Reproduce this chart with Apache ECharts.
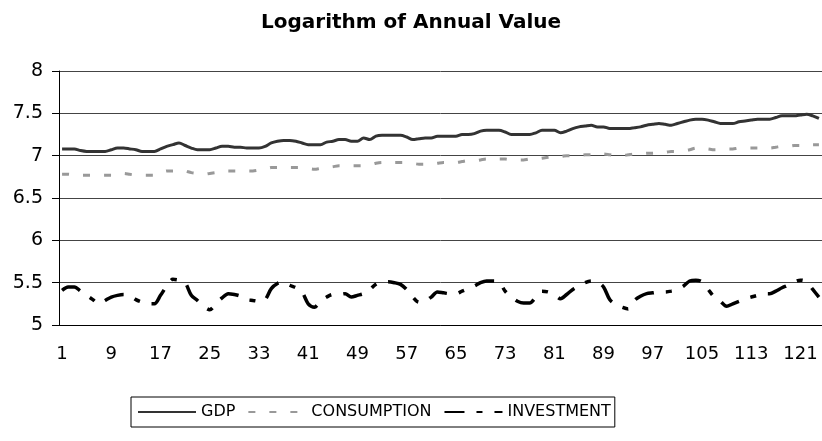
<!DOCTYPE html>
<html>
<head>
<meta charset="utf-8">
<script src="https://cdn.jsdelivr.net/npm/echarts@6/dist/echarts.min.js"></script>
<style>
  html, body { margin: 0; padding: 0; background: #fff; }
  #myChart { width: 822px; height: 441px; }
</style>
</head>
<body>
<div id="myChart"></div>
<script>
// x axis: observation number 1..124
var categories = Array.from({ length: 124 }, function (v, i) { return String(i + 1) })

var gdp = [
  7.08, 7.08, 7.08, 7.06, 7.05, 7.05, 7.05, 7.05, 7.07, 7.09, 7.09, 7.08, 7.07, 7.05, 7.05, 7.05,
  7.08, 7.11, 7.13, 7.15, 7.12, 7.09, 7.07, 7.07, 7.07, 7.09, 7.11, 7.11, 7.10, 7.10, 7.09, 7.09,
  7.09, 7.11, 7.15, 7.17, 7.18, 7.18, 7.17, 7.15, 7.13, 7.13, 7.13, 7.16, 7.17, 7.19, 7.19, 7.17,
  7.17, 7.21, 7.19, 7.23, 7.24, 7.24, 7.24, 7.24, 7.22, 7.19, 7.20, 7.21, 7.21, 7.23, 7.23, 7.23,
  7.23, 7.25, 7.25, 7.26, 7.29, 7.30, 7.30, 7.30, 7.28, 7.25, 7.25, 7.25, 7.25, 7.27, 7.30, 7.30,
  7.30, 7.27, 7.29, 7.32, 7.34, 7.35, 7.36, 7.34, 7.34, 7.32, 7.32, 7.32, 7.32, 7.33, 7.34, 7.36,
  7.37, 7.38, 7.37, 7.36, 7.38, 7.40, 7.42, 7.43, 7.43, 7.42, 7.40, 7.38, 7.38, 7.38, 7.40, 7.41,
  7.42, 7.43, 7.43, 7.43, 7.45, 7.47, 7.47, 7.47, 7.48, 7.49, 7.47, 7.44
]

var consumption = [
  6.78, 6.78, 6.77, 6.77, 6.77, 6.77, 6.77, 6.77, 6.77, 6.78, 6.79, 6.78, 6.77, 6.77, 6.77, 6.77,
  6.79, 6.82, 6.82, 6.83, 6.82, 6.80, 6.79, 6.78, 6.79, 6.80, 6.81, 6.82, 6.82, 6.82, 6.82, 6.82,
  6.83, 6.84, 6.86, 6.86, 6.86, 6.86, 6.86, 6.86, 6.85, 6.84, 6.85, 6.86, 6.87, 6.88, 6.88, 6.88,
  6.88, 6.88, 6.89, 6.91, 6.92, 6.92, 6.92, 6.92, 6.92, 6.91, 6.90, 6.90, 6.90, 6.91, 6.92, 6.92,
  6.92, 6.93, 6.94, 6.94, 6.95, 6.96, 6.96, 6.96, 6.96, 6.95, 6.95, 6.95, 6.96, 6.96, 6.97, 6.98,
  6.99, 6.99, 7.00, 7.00, 7.00, 7.01, 7.01, 7.02, 7.02, 7.01, 7.00, 7.00, 7.01, 7.02, 7.02, 7.03,
  7.03, 7.04, 7.04, 7.05, 7.05, 7.06, 7.07, 7.09, 7.09, 7.08, 7.07, 7.07, 7.08, 7.08, 7.09, 7.09,
  7.09, 7.09, 7.09, 7.09, 7.10, 7.11, 7.11, 7.12, 7.12, 7.13, 7.13, 7.13
]

var investment = [
  5.41, 5.45, 5.45, 5.40, 5.35, 5.30, 5.25, 5.29, 5.33, 5.35, 5.36, 5.35, 5.30, 5.27, 5.25, 5.25,
  5.35, 5.46, 5.54, 5.53, 5.50, 5.35, 5.29, 5.22, 5.18, 5.25, 5.32, 5.37, 5.36, 5.34, 5.30, 5.29,
  5.28, 5.30, 5.43, 5.49, 5.51, 5.47, 5.44, 5.39, 5.25, 5.21, 5.28, 5.33, 5.36, 5.36, 5.37, 5.33,
  5.35, 5.37, 5.42, 5.48, 5.51, 5.51, 5.50, 5.48, 5.42, 5.33, 5.27, 5.28, 5.33, 5.39, 5.38, 5.37,
  5.37, 5.40, 5.43, 5.46, 5.50, 5.52, 5.52, 5.51, 5.40, 5.33, 5.28, 5.26, 5.26, 5.33, 5.40, 5.39,
  5.36, 5.31, 5.36, 5.42, 5.46, 5.50, 5.52, 5.51, 5.45, 5.30, 5.24, 5.21, 5.19, 5.29, 5.34, 5.37,
  5.38, 5.39, 5.39, 5.40, 5.42, 5.46, 5.52, 5.53, 5.51, 5.42, 5.33, 5.28, 5.22, 5.25, 5.28, 5.31,
  5.33, 5.35, 5.37, 5.37, 5.40, 5.44, 5.47, 5.51, 5.53, 5.51, 5.42, 5.33
]

var seriesNames = ['GDP', 'CONSUMPTION', 'INVESTMENT']
var font = 'DejaVu Sans'
var noMarker = 'rgba(0,0,0,0)' // hides the dot ECharts puts on legend lines

var myChart = echarts.init(document.getElementById('myChart'))
myChart.setOption({
  animation: false,
  backgroundColor: '#ffffff',
  title: {
    text: 'Logarithm of Annual Value',
    left: 'center',
    top: 8,
    textStyle: { fontFamily: font, fontSize: 20, fontWeight: 'bold', color: '#000' }
  },
  grid: { left: 59, right: 0, top: 71, bottom: 116 },
  legend: {
    data: seriesNames,
    left: 131,
    top: 397,
    orient: 'horizontal',
    padding: [7, 4, 7, 6],
    borderColor: '#000',
    borderWidth: 1,
    itemWidth: 58,
    itemHeight: 12,
    itemGap: 12,
    itemStyle: { color: noMarker, borderColor: noMarker, borderWidth: 0 },
    textStyle: { fontFamily: font, fontSize: 16, color: '#000' }
  },
  xAxis: {
    type: 'category',
    data: categories,
    boundaryGap: true,
    axisLine: { lineStyle: { color: '#000', width: 1 } },
    axisTick: { interval: 0, length: 5, lineStyle: { color: '#000' } },
    axisLabel: { interval: 7, margin: 20, fontFamily: font, fontSize: 18, color: '#000' },
    splitLine: { show: false }
  },
  yAxis: {
    type: 'value',
    min: 5,
    max: 8,
    interval: 0.5,
    axisLine: { show: true, lineStyle: { color: '#000', width: 1 } },
    axisTick: { show: true, length: 7, lineStyle: { color: '#000' } },
    axisLabel: { margin: 16, fontFamily: font, fontSize: 19, color: '#000' },
    splitLine: { lineStyle: { color: '#444', width: 1 } }
  },
  series: [
    {
      name: 'GDP',
      type: 'line',
      data: gdp,
      symbol: 'none',
      smooth: 0.3,
      itemStyle: { color: noMarker },
      lineStyle: { color: '#333333', width: 3 }
    },
    {
      name: 'CONSUMPTION',
      type: 'line',
      data: consumption,
      symbol: 'none',
      smooth: 0.3,
      itemStyle: { color: noMarker },
      lineStyle: { color: '#999999', width: 3, type: [7, 14] }
    },
    {
      name: 'INVESTMENT',
      type: 'line',
      data: investment,
      symbol: 'none',
      smooth: 0.3,
      itemStyle: { color: noMarker },
      // long dash - dot
      lineStyle: { color: '#000000', width: 3.5, type: [20, 12, 6, 12] }
    }
  ]
})
</script>
</body>
</html>
